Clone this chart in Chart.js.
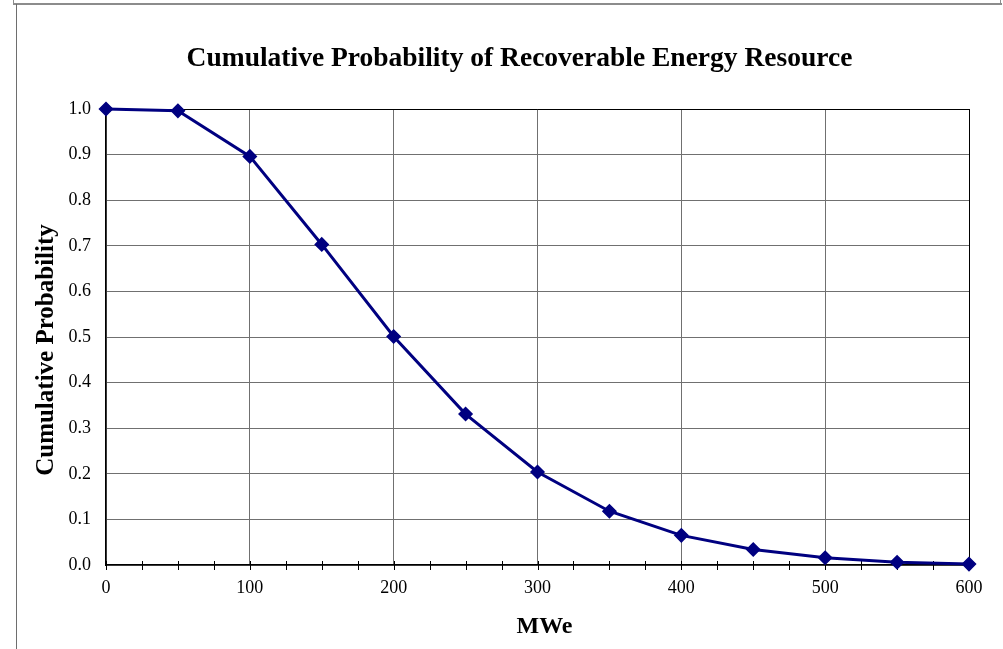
<!DOCTYPE html>
<html>
<head>
<meta charset="utf-8">
<script src="https://cdn.jsdelivr.net/npm/chart.js@4/dist/chart.umd.min.js"></script>
<style>
  html, body { margin: 0; padding: 0; background: #fff; }
  #wrap { position: relative; width: 1003px; height: 649px; overflow: hidden; }
  canvas { position: absolute; left: 0; top: 0; }
  .fr { position: absolute; background: #8c8c8c; }
</style>
</head>
<body>
<div id="wrap">
  <canvas id="c" width="1003" height="649"></canvas>
  <div class="fr" style="left:13px; top:3px; width:989px; height:2px;"></div>
  <div class="fr" style="left:13px; top:0px; width:1px; height:4px;"></div>
  <div class="fr" style="left:1000px; top:0px; width:1px; height:4px;"></div>
  <div class="fr" style="left:16px; top:4px; width:1px; height:645px; background:#6e6e6e;"></div>
</div>
<script>
// ---- data ----
const chartTitle = "Cumulative Probability of Recoverable Energy Resource";
const xTitle = "MWe";
const yTitle = "Cumulative Probability";
const mwe = [0, 50, 100, 150, 200, 250, 300, 350, 400, 450, 500, 550, 600];
const cumProb = [1.0, 0.996, 0.896, 0.703, 0.501, 0.331, 0.204, 0.118, 0.065, 0.034, 0.016, 0.006, 0.002];
const xMin = 0, xMax = 600, xMajor = 100, xMinor = 25;
const yMin = 0, yMax = 1, yStep = 0.1;

const serif = '"Liberation Serif", "Times New Roman", serif';

const points = mwe.map((x, i) => ({ x: x, y: cumProb[i] }));

const decorPlugin = {
  id: 'decor',
  beforeDatasetsDraw(chart) {
    const ctx = chart.ctx;
    const xs = chart.scales.x;
    const ys = chart.scales.y;
    const yb = Math.round(ys.getPixelForValue(yMin));
    ctx.save();
    ctx.strokeStyle = '#000';
    ctx.lineWidth = 1;
    ctx.beginPath();
    for (let v = xMin; v <= xMax; v += xMinor) {
      const px = Math.round(xs.getPixelForValue(v)) + 0.5;
      ctx.moveTo(px, yb - 4);
      ctx.lineTo(px, yb + 5);
    }
    ctx.stroke();
    ctx.restore();
  },
  afterDraw(chart) {
    const ctx = chart.ctx;
    ctx.save();
    ctx.fillStyle = '#000';
    ctx.textAlign = 'center';
    ctx.textBaseline = 'alphabetic';
    ctx.font = 'bold 27.5px ' + serif;
    ctx.fillText(chartTitle, 519.5, 66);
    ctx.font = 'bold 24px ' + serif;
    ctx.fillText(xTitle, 544.5, 633);
    ctx.translate(53, 350);
    ctx.rotate(-Math.PI / 2);
    ctx.font = 'bold 25px ' + serif;
    ctx.fillText(yTitle, 0, 0);
    ctx.restore();
  }
};

new Chart(document.getElementById('c'), {
  type: 'line',
  data: {
    datasets: [{
      data: points,
      borderColor: '#000080',
      backgroundColor: '#000080',
      borderWidth: 3,
      pointStyle: 'rectRot',
      pointRadius: 6.5,
      pointBorderWidth: 1.5,
      pointBorderColor: '#000080',
      pointBackgroundColor: '#000080',
      tension: 0,
      fill: false,
      clip: false
    }]
  },
  options: {
    responsive: false,
    animation: false,
    devicePixelRatio: 1,
    layout: { padding: { left: 0, top: 109, right: 34, bottom: 0 } },
    plugins: {
      legend: { display: false },
      title: { display: false },
      tooltip: { enabled: false }
    },
    scales: {
      x: {
        type: 'linear',
        min: xMin, max: xMax,
        afterFit(scale) { scale.height = 84; },
        ticks: {
          stepSize: xMinor,
          autoSkip: false,
          maxRotation: 0,
          padding: 12,
          color: '#000',
          font: { family: serif, size: 18 },
          callback: (v) => (v % xMajor === 0 ? String(v) : '')
        },
        grid: {
          drawTicks: false,
          lineWidth: 1,
          color: (c) => {
            const v = c.tick ? c.tick.value : null;
            if (v === xMax) return '#000';
            if (v !== null && v % xMajor === 0) return '#707070';
            return 'rgba(0,0,0,0)';
          }
        },
        border: { display: true, color: '#000', width: 1.5 }
      },
      y: {
        type: 'linear',
        min: yMin, max: yMax,
        afterFit(scale) { scale.width = 106; },
        ticks: {
          stepSize: yStep,
          padding: 15,
          color: '#000',
          font: { family: serif, size: 18 },
          callback: (v) => Number(v).toFixed(1)
        },
        grid: {
          drawTicks: false,
          lineWidth: 1,
          color: (c) => {
            const v = c.tick ? c.tick.value : null;
            if (v !== null && Math.abs(v - yMax) < 1e-9) return '#000';
            return '#707070';
          }
        },
        border: { display: true, color: '#000', width: 1.5 }
      }
    }
  },
  plugins: [decorPlugin]
});
</script>
</body>
</html>
